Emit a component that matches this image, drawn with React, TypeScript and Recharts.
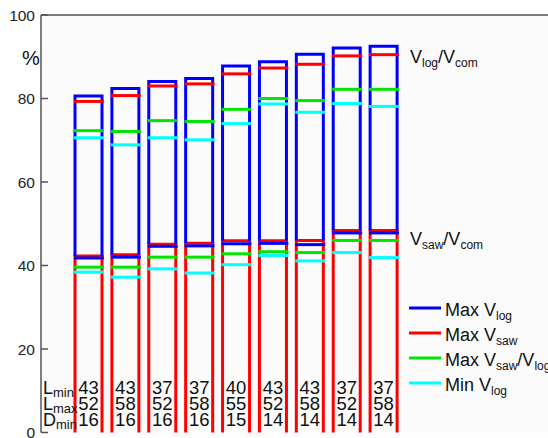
import React from 'react';
import { ComposedChart, Bar, Scatter, XAxis, YAxis, ReferenceLine, CartesianGrid } from 'recharts';

// nine tested configurations
const configs = ['1', '2', '3', '4', '5', '6', '7', '8', '9'];

// upper group: Vlog / Vcom (%)
const maxVlogUpper = [80.6, 82.4, 84.1, 84.8, 87.8, 88.8, 90.6, 92.1, 92.5];
const maxVsawUpper = [79.3, 80.7, 83.0, 83.5, 85.9, 87.3, 88.2, 90.2, 90.5];
const maxRatioUpper = [72.3, 72.1, 74.7, 74.5, 77.4, 80.0, 79.5, 82.2, 82.2];
const minVlogUpper = [70.6, 68.9, 70.6, 70.1, 74.0, 78.7, 76.7, 78.8, 78.1];

// lower group: Vsaw / Vcom (%)
const maxVsawLower = [42.3, 42.6, 45.1, 45.3, 45.9, 45.9, 46.0, 48.4, 48.4];
const maxVlogLower = [41.8, 42.0, 44.6, 44.7, 45.2, 45.3, 45.0, 47.8, 47.8];
const maxRatioLower = [39.6, 39.6, 42.0, 42.0, 42.8, 43.3, 43.1, 46.0, 46.0];
const minVlogLower = [38.4, 37.2, 39.2, 38.2, 40.2, 42.4, 41.1, 43.1, 41.9];

// table under the bars
const lMin = [43, 43, 37, 37, 40, 43, 43, 37, 37];
const lMax = [52, 58, 52, 58, 55, 52, 58, 52, 58];
const dMin = [16, 16, 16, 16, 15, 14, 14, 14, 14];

const yTicks = [0, 20, 40, 60, 80, 100];

const BLUE = '#0000ff';
const RED = '#ff0000';
const GREEN = '#00e600';
const CYAN = '#00ffff';
const SANS = '"Liberation Sans", Arial, sans-serif';

const legendItems = [
  { color: BLUE, main: 'Max V', sub: 'log', tail: '' },
  { color: RED, main: 'Max V', sub: 'saw', tail: '' },
  { color: GREEN, main: 'Max V', sub: 'saw', tail: 'log' },
  { color: CYAN, main: 'Min V', sub: 'log', tail: '' },
];

const data = configs.map((name, i) => ({
  name,
  vsawBox: maxVsawLower[i],
  vlogSpan: maxVlogUpper[i] - maxVsawLower[i],
  maxVsawUpper: maxVsawUpper[i],
  maxRatioUpper: maxRatioUpper[i],
  minVlogUpper: minVlogUpper[i],
  maxVlogLower: maxVlogLower[i],
  maxRatioLower: maxRatioLower[i],
  minVlogLower: minVlogLower[i],
  lMin: lMin[i],
  lMax: lMax[i],
  dMin: dMin[i],
}));

const RedBox = (props: any) => {
  const { x, y, width, height, payload } = props;
  const bottom = y + height;
  const cx = x + width / 2;
  const txt = { fontFamily: SANS, fontSize: 18.5, fill: '#111', textAnchor: 'middle' as const };
  return (
    <g>
      <path
        d={`M${x + 1.5},${bottom} L${x + 1.5},${y} L${x + width - 1.5},${y} L${x + width - 1.5},${bottom}`}
        fill="none"
        stroke={RED}
        strokeWidth={3}
      />
      <text x={cx} y={bottom - 38.5} {...txt}>{payload.lMin}</text>
      <text x={cx} y={bottom - 22.5} {...txt}>{payload.lMax}</text>
      <text x={cx} y={bottom - 6.5} {...txt}>{payload.dMin}</text>
    </g>
  );
};

const BlueBox = (props: any) => {
  const { x, y, width, height } = props;
  const bottom = y + height;
  return (
    <path
      d={`M${x + 1.5},${bottom} L${x + 1.5},${y} L${x + width - 1.5},${y} L${x + width - 1.5},${bottom}`}
      fill="none"
      stroke={BLUE}
      strokeWidth={3}
    />
  );
};

const hLine = (color: string) => (props: any) => (
  <line x1={props.cx - 15} x2={props.cx + 15} y1={props.cy} y2={props.cy} stroke={color} strokeWidth={3} />
);

const Overlay = () => {
  const t = { fontFamily: SANS, fill: '#111' };
  return (
    <svg width={548} height={438} style={{ position: 'absolute', left: 0, top: 0, pointerEvents: 'none' }}>
      <text x={22} y={65} fontSize={20} {...t}>%</text>
      <text x={410} y={63} fontSize={18} {...t}>
        V<tspan dy={4} fontSize={12}>log</tspan>
        <tspan dy={-4}>/V</tspan>
        <tspan dy={4} fontSize={12}>com</tspan>
      </text>
      <text x={410} y={245} fontSize={18} {...t}>
        V<tspan dy={4} fontSize={12}>saw</tspan>
        <tspan dy={-4}>/V</tspan>
        <tspan dy={4} fontSize={12}>com</tspan>
      </text>
      {legendItems.map((it, i) => {
        const ly = 308 + i * 25;
        return (
          <g key={i}>
            <line x1={409} x2={441} y1={ly} y2={ly} stroke={it.color} strokeWidth={3} />
            <text x={445} y={ly + 8} fontSize={18} {...t}>
              {it.main}
              <tspan dy={4} fontSize={12}>{it.sub}</tspan>
              {it.tail ? (
                <>
                  <tspan dy={-4}>/V</tspan>
                  <tspan dy={4} fontSize={12}>{it.tail}</tspan>
                </>
              ) : null}
            </text>
          </g>
        );
      })}
      {[
        ['L', 'min'],
        ['L', 'max'],
        ['D', 'min'],
      ].map(([m, s], i) => (
        <text key={i} x={43} y={394 + i * 16} fontSize={18} {...t}>
          {m}
          <tspan dy={2.5} fontSize={13}>{s}</tspan>
        </text>
      ))}
    </svg>
  );
};

export default function App() {
  return (
    <div style={{ position: 'absolute', left: 0, top: 0, width: 548, height: 438, background: '#fff' }}>
      <ComposedChart width={548} height={438} data={data} margin={{ top: 15, right: 0, bottom: 5.5, left: 0 }}>
        <CartesianGrid horizontal={false} vertical={false} fill="#fbfbfb" />
        <XAxis
          dataKey="name"
          height={0}
          tick={false}
          tickLine={false}
          padding={{ left: 29.5, right: 145.5 }}
          axisLine={{ stroke: '#555', strokeWidth: 1.5 }}
        />
        <YAxis
          domain={[0, 100]}
          ticks={yTicks}
          interval={0}
          width={41}
          tickSize={-7}
          tickMargin={13}
          axisLine={{ stroke: '#555', strokeWidth: 1.5 }}
          tickLine={{ stroke: '#555', strokeWidth: 1.5 }}
          tick={{ fontFamily: SANS, fontSize: 15.5, fill: '#222' }}
        />
        <ReferenceLine y={100} stroke="#555" strokeWidth={1.5} />
        <Bar dataKey="vsawBox" stackId="box" barSize={30} shape={RedBox} isAnimationActive={false} />
        <Bar dataKey="vlogSpan" stackId="box" barSize={30} shape={BlueBox} isAnimationActive={false} />
        <Scatter dataKey="maxVsawUpper" shape={hLine(RED)} isAnimationActive={false} />
        <Scatter dataKey="maxRatioUpper" shape={hLine(GREEN)} isAnimationActive={false} />
        <Scatter dataKey="minVlogUpper" shape={hLine(CYAN)} isAnimationActive={false} />
        <Scatter dataKey="maxVlogLower" shape={hLine(BLUE)} isAnimationActive={false} />
        <Scatter dataKey="maxRatioLower" shape={hLine(GREEN)} isAnimationActive={false} />
        <Scatter dataKey="minVlogLower" shape={hLine(CYAN)} isAnimationActive={false} />
      </ComposedChart>
      <Overlay />
    </div>
  );
}
